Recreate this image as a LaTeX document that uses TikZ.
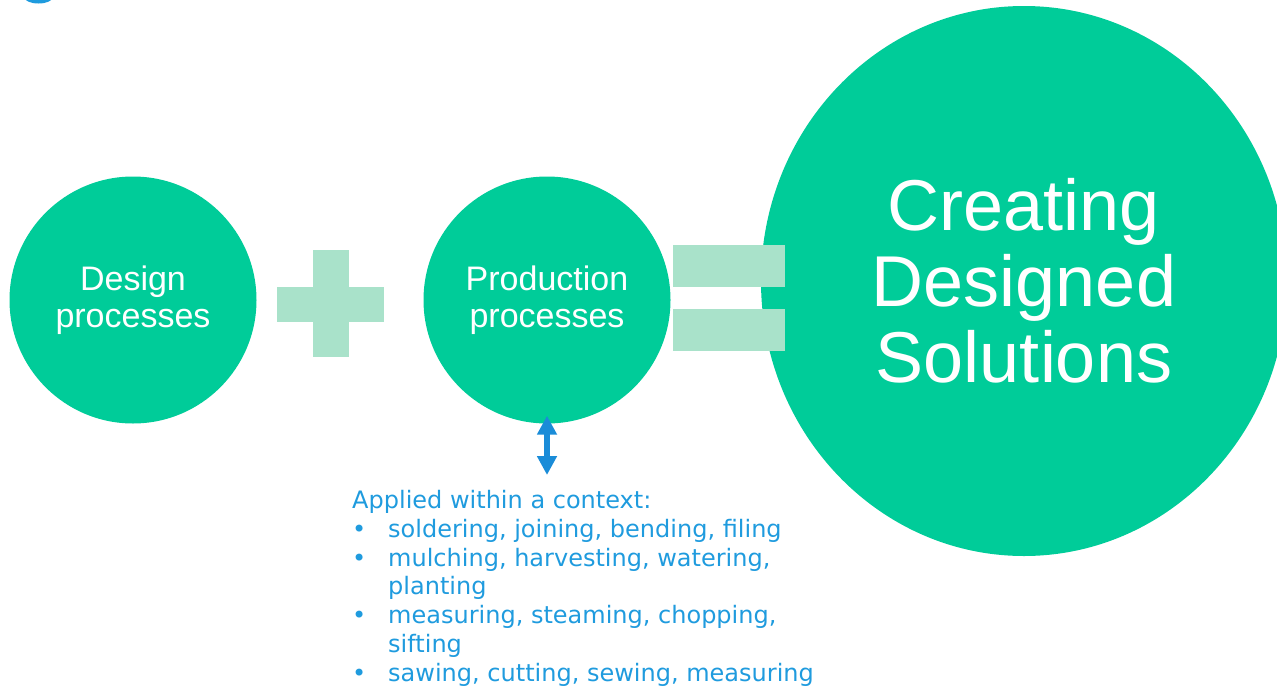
\documentclass[tikz,border=0pt]{standalone}
\usepackage{fontspec}
\setmainfont{Liberation Sans}
\newfontfamily\ctxfont{DejaVu Sans}
\usetikzlibrary{arrows.meta,positioning,shapes.geometric}

\definecolor{mint}{HTML}{00CC99}
\definecolor{palemint}{HTML}{A9E2CA}
\definecolor{skyblue}{HTML}{1F9BDE}
\definecolor{arrowblue}{HTML}{1A8CD8}
% bullet with hanging indent for the context list
\newcommand\bul{\makebox[36pt][l]{\textbullet}}
\newcommand\hang{\hspace*{36pt}}

\begin{document}
\begin{tikzpicture}[x=1pt, y=-1pt, >=Latex,
  proc/.style={circle, fill=mint, minimum size=247pt, inner sep=0pt,
               text=white, align=center, font=\fontsize{34}{37}\selectfont},
  result/.style={ellipse, fill=mint, minimum width=526pt, minimum height=550pt,
                 inner sep=0pt, text=white, align=center, font=\fontsize{72}{76}\selectfont},
  bar/.style={fill=palemint},
  ctx/.style={text=skyblue, align=left, inner sep=0pt,
              font=\ctxfont\fontsize{24}{28.8}\selectfont}]
\clip (0,0) rectangle (1277,688);
% corner mark
\fill[skyblue] (38.5,-2) ellipse [x radius=13.5, y radius=5.5];
% the two process circles
\node[proc] (design) at (133,300) {Design\\processes};
\node[proc] (prod) at (547,300) {Production\\processes};
% outcome
\node[result] (result) at (1024,281) {Creating\\Designed\\Solutions};
% plus sign
\fill[bar] (277,287) rectangle (384,322);
\fill[bar] (313,250) rectangle (349,357);
% equals sign
\fill[bar] (673,245) rectangle (785,287);
\fill[bar] (673,309) rectangle (785,351);
% context list below the production circle
\coordinate (ctxtop) at (547,475);
\draw[arrowblue, line width=6.5pt,
      {Triangle[length=19pt,width=19pt]}-{Triangle[length=19pt,width=19pt]}]
  ([yshift=8pt]prod.south) -- (ctxtop);
\node[ctx, anchor=north west] (ctx) at (352,490) {Applied within a context:\\
  \bul soldering, joining, bending, filing\\
  \bul mulching, harvesting, watering,\\
  \hang planting\\
  \bul measuring, steaming, chopping,\\
  \hang sifting\\
  \bul sawing, cutting, sewing, measuring};
\end{tikzpicture}
\end{document}
